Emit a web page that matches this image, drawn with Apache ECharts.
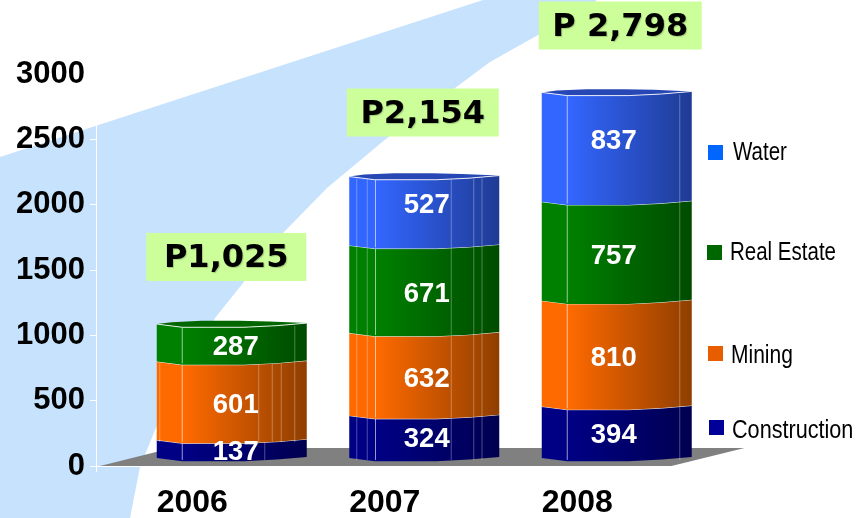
<!DOCTYPE html>
<html>
<head>
<meta charset="utf-8">
<style>
  html, body { margin: 0; padding: 0; background: #fff; }
  #chart { width: 859px; height: 518px; }
</style>
<script src="https://cdn.jsdelivr.net/npm/echarts@6/dist/echarts.min.js"></script>
</head>
<body>
<div id="chart"></div>
<script>
var years = ['2006', '2007', '2008'];
var construction = [137, 324, 394];
var mining = [601, 632, 810];
var realEstate = [287, 671, 757];
var water = [null, 527, 837];
var totals = [1025, 2154, 2798];
var totalLabels = ['P1,025', 'P2,154', 'P 2,798'];
var yTicks = { min: 0, max: 3000, interval: 500 };

// 3D look: bars sit behind the axis plane, so shift them into the floor
var DEPTH_X = 39.5, DEPTH_Y = -8, BAR_W = 150, RY = 3.2;
var FRONT = [[0, 0], [0.17, 1], [0.58, 1], [0.8, 0.5], [1, -0.3]];
var BACK = [[1, -0.3], [0.75, -0.8], [0.55, -1], [0.3, -1], [0.1, -0.6], [0, 0]];
var LABEL_DX = [4, 2.5, -3];
var BOXES = [
  { w: 160, dx: -5.5, gap: 43 },
  { w: 152, dx: -1.5, gap: 40 },
  { w: 163, dx: 3.5, gap: 43 }
];

var styles = {
  Construction: {
    legend: '#000099', light: '#000085', dark: '#000050', top: '#000070', labelDy: 3,
    ribs: [[0.17, 0.72], [0.05, 0.12, 0.175, 0.68, 0.83, 0.885], [0.17, 0.92]]
  },
  Mining: {
    legend: '#e85d00', light: '#ff6a00', dark: '#8f3e00', top: '#c05000', labelDy: 5,
    ribs: [[0.02, 0.17, 0.68, 0.77, 0.83, 0.92], [0.05, 0.12, 0.175, 0.68, 0.83, 0.885], [0.17, 0.92]]
  },
  'Real Estate': {
    legend: '#006600', light: '#008000', dark: '#004b00', top: '#006600', labelDy: 5,
    ribs: [[0.17, 0.92], [0.05, 0.12, 0.175, 0.68, 0.83, 0.885], [0.17, 0.92]]
  },
  Water: {
    legend: '#0066ff', light: '#3366ff', dark: '#1f3b94', top: '#2748b4', labelDy: -6,
    ribs: [[], [0.05, 0.12, 0.175, 0.68, 0.83, 0.885], [0.17, 0.92]]
  }
};

var stackOrder = ['Construction', 'Mining', 'Real Estate', 'Water'];

function edge(profile, x0, y0) {
  return profile.map(function (p) { return [x0 + p[0] * BAR_W, y0 + p[1] * RY]; });
}

function segmentSeries(name, values) {
  var st = styles[name];
  var below = [construction, mining, realEstate, water].slice(0, stackOrder.indexOf(name));
  var data = [];
  values.forEach(function (v, i) {
    if (v == null) return;
    var base = 0;
    below.forEach(function (arr) { base += arr[i] || 0; });
    data.push([i, base, base + v, v]);
  });
  return {
    type: 'custom',
    name: name,
    z: 2,
    itemStyle: { color: st.legend },
    encode: { x: 0, y: [1, 2] },
    data: data,
    renderItem: function (params, api) {
      var i = api.value(0);
      var pb = api.coord([i, api.value(1)]);
      var pt = api.coord([i, api.value(2)]);
      var x0 = pb[0] + DEPTH_X - BAR_W / 2;
      var yb = pb[1] + DEPTH_Y;
      var yt = pt[1] + DEPTH_Y;
      var topEdge = edge(FRONT, x0, yt);
      var botEdge = edge(FRONT, x0, yb);
      var fill = new echarts.graphic.LinearGradient(0, 0, 1, 0, [
        { offset: 0, color: st.light },
        { offset: 0.18, color: st.light },
        { offset: 1, color: st.dark }
      ]);
      var children = [{
        type: 'polygon',
        shape: { points: topEdge.concat(botEdge.slice().reverse()) },
        style: { fill: fill }
      }];
      st.ribs[i].forEach(function (f) {
        var strong = Math.abs(f - 0.17) < 0.01;
        children.push({
          type: 'line',
          shape: { x1: x0 + f * BAR_W, y1: yt + RY * 0.6, x2: x0 + f * BAR_W, y2: yb + RY * 0.6 },
          style: { stroke: 'rgba(255,255,255,' + (strong ? 0.6 : 0.3) + ')', lineWidth: 1 }
        });
      });
      if (name === 'Water' || (name === 'Real Estate' && i === 0)) {
        // only the top block of a stack shows its lid
        children.push({
          type: 'polygon',
          shape: { points: edge(FRONT.concat(BACK.slice(1)), x0, yt) },
          style: { fill: st.top }
        });
      }
      children.push({
        type: 'polyline',
        shape: { points: topEdge },
        style: { stroke: 'rgba(255,255,255,0.85)', lineWidth: 1, fill: null }
      });
      children.push({
        type: 'text',
        z2: 100,
        style: {
          text: String(api.value(3)),
          x: x0 + BAR_W / 2 + LABEL_DX[i],
          y: (yb + yt) / 2 + st.labelDy,
          align: 'center',
          verticalAlign: 'middle',
          fill: '#fff',
          font: 'bold 27.5px "Liberation Sans"'
        }
      });
      return { type: 'group', children: children };
    }
  };
}

var floorSeries = {
  type: 'custom',
  z: 1,
  silent: true,
  data: [[0]],
  renderItem: function (params) {
    var c = params.coordSys;
    var yb = c.y + c.height;
    var xl = c.x + 4, xr = c.x + c.width - 2;
    return {
      type: 'polygon',
      shape: { points: [[xl, yb], [xr, yb], [xr + 73, yb - 18], [xl + 72, yb - 18]] },
      style: { fill: '#808080' }
    };
  }
};

var totalSeries = {
  type: 'custom',
  z: 3,
  silent: true,
  encode: { x: 0, y: 1 },
  data: totals.map(function (t, i) { return [i, t]; }),
  renderItem: function (params, api) {
    var i = api.value(0);
    var p = api.coord([i, api.value(1)]);
    var b = BOXES[i];
    var cx = p[0] + DEPTH_X + b.dx;
    var bottom = p[1] + DEPTH_Y - b.gap;
    return {
      type: 'group',
      children: [{
        type: 'rect',
        shape: { x: cx - b.w / 2, y: bottom - 48, width: b.w, height: 48 },
        style: { fill: '#ccff99' }
      }, {
        type: 'text',
        style: {
          text: totalLabels[i],
          x: cx,
          y: bottom - 22,
          align: 'center',
          verticalAlign: 'middle',
          fill: '#000',
          font: 'bold 32px "DejaVu Sans"',
          textShadowColor: 'rgba(0,0,0,0.2)',
          textShadowOffsetX: 1,
          textShadowOffsetY: 1,
          textShadowBlur: 1
        }
      }]
    };
  }
};

// the reference legend is hand placed and uses a condensed face, hence text squeezed with scaleX
var legendSpots = [
  { name: 'Water', box: [708, 145], text: [733, 153], squeeze: 0.82 },
  { name: 'Real Estate', box: [707, 245], text: [730, 253], squeeze: 0.82 },
  { name: 'Mining', box: [708, 346], text: [731, 356], squeeze: 0.84 },
  { name: 'Construction', box: [709, 420], text: [732, 431], squeeze: 0.865 }
];

var legendGraphics = [];
legendSpots.forEach(function (l) {
  legendGraphics.push({
    type: 'rect',
    silent: true,
    shape: { x: l.box[0], y: l.box[1], width: 15, height: 15 },
    style: { fill: styles[l.name].legend }
  });
  legendGraphics.push({
    type: 'text',
    silent: true,
    x: l.text[0],
    y: l.text[1],
    scaleX: l.squeeze,
    style: {
      text: l.name,
      x: 0,
      y: 0,
      verticalAlign: 'middle',
      fill: '#000',
      font: '25px "Liberation Sans"'
    }
  });
});

var chart = echarts.init(document.getElementById('chart'));
chart.setOption({
  animation: false,
  backgroundColor: '#fff',
  grid: { left: 96, top: 74, width: 577.5, height: 392, outerBoundsMode: 'none' },
  graphic: [{
    type: 'polygon',
    z: -10,
    silent: true,
    shape: {
      points: [[0, 157], [483, 0], [597, 0], [538, 35], [490, 62], [455, 88], [387, 138],
        [327, 188], [283, 233], [215, 318], [155, 430], [140, 467], [130, 518], [0, 518]]
    },
    style: { fill: '#c6e2fd' }
  }].concat(legendGraphics),
  xAxis: {
    type: 'category',
    data: years,
    axisLine: { lineStyle: { color: '#fff', width: 1 } },
    axisTick: { show: true, length: 6, lineStyle: { color: '#fff' } },
    axisLabel: {
      color: '#000',
      fontFamily: '"Liberation Sans"',
      fontWeight: 'bold',
      fontSize: 32,
      margin: 21
    }
  },
  yAxis: {
    type: 'value',
    min: yTicks.min,
    max: yTicks.max,
    interval: yTicks.interval,
    splitLine: { show: false },
    axisLine: { show: true, lineStyle: { color: '#fff', width: 1 } },
    axisTick: { show: true, length: 6, lineStyle: { color: '#fff' } },
    axisLabel: {
      color: '#000',
      fontFamily: '"Liberation Sans"',
      fontWeight: 'bold',
      fontSize: 31,
      margin: 11,
      padding: [3, 0, 0, 0],
      formatter: function (v) { return String(v); }
    }
  },
  series: [
    floorSeries,
    segmentSeries('Construction', construction),
    segmentSeries('Mining', mining),
    segmentSeries('Real Estate', realEstate),
    segmentSeries('Water', water),
    totalSeries
  ]
});
</script>
</body>
</html>
